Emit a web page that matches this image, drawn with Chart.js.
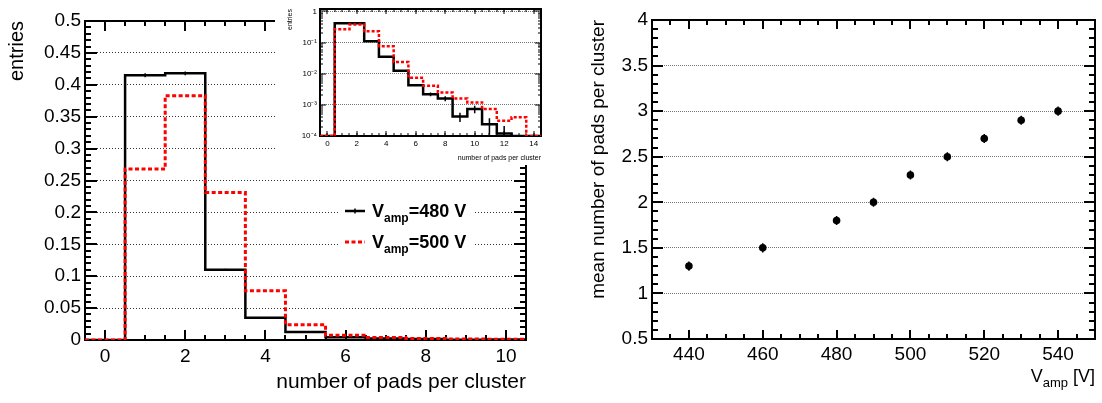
<!DOCTYPE html>
<html>
<head>
<meta charset="utf-8">
<script src="https://cdn.jsdelivr.net/npm/chart.js@4.4.1/dist/chart.umd.min.js"></script>
<style>
  html, body { margin: 0; padding: 0; background: #fff; }
  #wrap { position: relative; width: 1102px; height: 403px; overflow: hidden; }
  .box { position: absolute; }
  #inset-box { background: #fff; }
</style>
</head>
<body>
<div id="wrap">
  <div class="box" style="left:0;top:0;width:560px;height:403px"><canvas id="hist"></canvas></div>
  <div class="box" id="inset-box" style="left:275px;top:0;width:275px;height:165px"><canvas id="inset"></canvas></div>
  <div class="box" style="left:560px;top:0;width:542px;height:403px"><canvas id="mean"></canvas></div>
</div>
<script>
const FONT = '"Liberation Sans", Arial, Helvetica, sans-serif';
Chart.defaults.font.family = FONT;
Chart.defaults.color = '#000';
Chart.defaults.animation = false;

// cluster size distribution (bin centres = number of pads)
const bins = [0, 1, 2, 3, 4, 5, 6, 7, 8, 9, 10, 11, 12, 13, 14];
const entries480 = [0, 0.415, 0.418, 0.110, 0.035, 0.0125, 0.0043, 0.0022, 0.0016, 0.00042, 0.00074, 0.00024, 0.00012, 0.0001, 0.0001];
const errors480 = [0, 0.003, 0.003, 0.0015, 0.0008, 0.0005, 0.0003, 0.0003, 0.0003, 0.00014, 0.0002, 0.00013, 0.00009, 0, 0];
const entries500 = [0, 0.268, 0.383, 0.231, 0.077, 0.024, 0.0074, 0.0041, 0.0025, 0.0016, 0.0012, 0.00073, 0.00031, 0.0004, 0];
const legendVolts = ['480', '500'];

const histXTicks = [0, 2, 4, 6, 8, 10];
const histYTicks = [0, 0.05, 0.1, 0.15, 0.2, 0.25, 0.3, 0.35, 0.4, 0.45, 0.5];
const histYLabels = ['0', '0.05', '0.1', '0.15', '0.2', '0.25', '0.3', '0.35', '0.4', '0.45', '0.5'];
const insetXTicks = [0, 2, 4, 6, 8, 10, 12, 14];
const insetYTicks = [1e-4, 1e-3, 1e-2, 1e-1, 1];
const insetYLabels = ['10\u207B\u2074', '10\u207B\u00B3', '10\u207B\u00B2', '10\u207B\u00B9', '1'];

// mean cluster size vs amplification voltage
const vamp = [440, 460, 480, 490, 500, 510, 520, 530, 540];
const meanPads = [1.3, 1.5, 1.8, 2.0, 2.3, 2.5, 2.7, 2.9, 3.0];
const meanErr = [0.05, 0.05, 0.05, 0.05, 0.05, 0.05, 0.05, 0.05, 0.05];
const meanXTicks = [440, 460, 480, 500, 520, 540];
const meanYTicks = [0.5, 1, 1.5, 2, 2.5, 3, 3.5, 4];
const meanYLabels = ['0.5', '1', '1.5', '2', '2.5', '3', '3.5', '4'];

function range(a, b, step) {
  const out = [];
  for (let v = a; v <= b + 1e-9; v += step) out.push(+v.toFixed(6));
  return out;
}

function logMinors(fromExp, toExp) {
  const out = [];
  for (let e = fromExp; e < toExp; e++) for (let m = 2; m <= 9; m++) out.push(m * Math.pow(10, e));
  return out;
}

// histogram outline: one point per lower bin edge, plus the last upper edge
function histSteps(values, floor) {
  const pts = bins.map((b, i) => ({ x: b - 0.5, y: Math.max(values[i], floor) }));
  pts.push({ x: bins[bins.length - 1] + 0.5, y: Math.max(values[values.length - 1], floor) });
  return pts;
}

function drawRich(ctx, parts, x, y, align) {
  const widths = parts.map(p => {
    ctx.font = (p.bold ? 'bold ' : '') + p.size + 'px ' + FONT;
    return ctx.measureText(p.text).width;
  });
  let cx = align === 'right' ? x - widths.reduce((s, w) => s + w, 0) : x;
  ctx.textAlign = 'left';
  ctx.textBaseline = 'alphabetic';
  parts.forEach((p, i) => {
    ctx.font = (p.bold ? 'bold ' : '') + p.size + 'px ' + FONT;
    ctx.fillText(p.text, cx, y + (p.dy || 0));
    cx += widths[i];
  });
}

// ROOT-like frame with inward ticks on all four sides
function framePlugin(cfg) {
  return {
    id: 'frame',
    beforeDatasetsDraw(chart) {
      const { ctx, chartArea: a, scales } = chart;
      const xs = scales.x, ys = scales.y;
      ctx.save();
      ctx.strokeStyle = '#000';
      ctx.lineWidth = cfg.tickWidth;
      ctx.setLineDash([]);
      ctx.beginPath();
      const xt = (vals, len) => vals.forEach(v => {
        const p = Math.round(xs.getPixelForValue(v));
        if (p < a.left + 2 || p > a.right - 2) return;
        ctx.moveTo(p, a.bottom); ctx.lineTo(p, a.bottom - len);
        ctx.moveTo(p, a.top); ctx.lineTo(p, a.top + len);
      });
      const yt = (vals, len) => vals.forEach(v => {
        const p = Math.round(ys.getPixelForValue(v));
        if (p < a.top + 2 || p > a.bottom - 2) return;
        ctx.moveTo(a.left, p); ctx.lineTo(a.left + len, p);
        ctx.moveTo(a.right, p); ctx.lineTo(a.right - len, p);
      });
      xt(cfg.xMinor, cfg.xMinorLen);
      xt(cfg.xMajor, cfg.xMajorLen);
      yt(cfg.yMinor, cfg.yMinorLen);
      yt(cfg.yMajor, cfg.yMajorLen);
      ctx.stroke();
      ctx.lineWidth = cfg.frameWidth;
      ctx.strokeRect(a.left, a.top, a.width, a.height);
      ctx.restore();
    }
  };
}

function errorBarPlugin(cfg) {
  return {
    id: 'errorBars',
    afterDatasetsDraw(chart) {
      const { ctx, chartArea: a, scales } = chart;
      const xs = scales.x, ys = scales.y;
      ctx.save();
      ctx.beginPath();
      ctx.rect(a.left, a.top, a.width, a.height);
      ctx.clip();
      ctx.strokeStyle = cfg.color;
      ctx.lineWidth = cfg.width;
      ctx.setLineDash([]);
      ctx.beginPath();
      cfg.x.forEach((xv, i) => {
        const e = cfg.err[i];
        if (!e || xv < xs.min || xv > xs.max) return;
        const px = xs.getPixelForValue(xv);
        const lo = Math.max(cfg.y[i] - e, ys.min);
        ctx.moveTo(px, ys.getPixelForValue(lo));
        ctx.lineTo(px, ys.getPixelForValue(cfg.y[i] + e));
      });
      ctx.stroke();
      ctx.restore();
    }
  };
}

function legendPlugin(cfg) {
  return {
    id: 'vampLegend',
    afterDatasetsDraw(chart) {
      const ctx = chart.ctx;
      ctx.save();
      ctx.fillStyle = '#fff';
      ctx.fillRect(cfg.box[0], cfg.box[1], cfg.box[2], cfg.box[3]);
      legendVolts.forEach((volt, i) => {
        const ds = chart.data.datasets[i];
        const y = cfg.rowY[i];
        ctx.strokeStyle = ds.borderColor;
        ctx.lineWidth = ds.borderWidth;
        ctx.setLineDash(ds.borderDash || []);
        ctx.beginPath();
        ctx.moveTo(cfg.lineX[0], y);
        ctx.lineTo(cfg.lineX[1], y);
        ctx.stroke();
        ctx.setLineDash([]);
        if (i === 0) {
          const cx = (cfg.lineX[0] + cfg.lineX[1]) / 2;
          ctx.lineWidth = 1.5;
          ctx.beginPath();
          ctx.moveTo(cx, y - 2.5);
          ctx.lineTo(cx, y + 2.5);
          ctx.stroke();
        }
        ctx.fillStyle = '#000';
        drawRich(ctx, [
          { text: 'V', size: 18, bold: true },
          { text: 'amp', size: 12, bold: true, dy: 5 },
          { text: '=' + volt + ' V', size: 18, bold: true }
        ], cfg.textX, y + 6, 'left');
      });
      ctx.restore();
    }
  };
}

function vampTitlePlugin(cfg) {
  return {
    id: 'vampTitle',
    afterDraw(chart) {
      const ctx = chart.ctx;
      ctx.save();
      ctx.fillStyle = '#000';
      drawRich(ctx, [
        { text: 'V', size: 18 },
        { text: 'amp', size: 13, dy: 5 },
        { text: ' [V]', size: 18 }
      ], chart.chartArea.right, cfg.y, 'right');
      ctx.restore();
    }
  };
}

const noLegend = { legend: { display: false }, tooltip: { enabled: false } };

// main histogram
new Chart(document.getElementById('hist'), {
  type: 'line',
  data: {
    datasets: [
      { label: 'V_amp=480 V', data: histSteps(entries480, 0), borderColor: '#000', borderWidth: 2.5,
        stepped: true, pointRadius: 0, order: 2 },
      { label: 'V_amp=500 V', data: histSteps(entries500, 0), borderColor: '#ff0000', borderWidth: 3,
        borderDash: [4, 2.5], stepped: true, pointRadius: 0, order: 1 }
    ]
  },
  options: {
    responsive: true,
    maintainAspectRatio: false,
    layout: { padding: { left: 0, top: 21, right: 34, bottom: 0 } },
    plugins: noLegend,
    scales: {
      x: {
        type: 'linear', min: -0.5, max: 10.5,
        afterBuildTicks: s => { s.ticks = histXTicks.map(v => ({ value: v })); },
        afterFit: s => { s.height = 63; },
        grid: { display: false, drawTicks: false },
        border: { display: false },
        ticks: { padding: 5, font: { size: 19 }, maxRotation: 0, autoSkip: false },
        title: { display: true, text: 'number of pads per cluster', align: 'end', font: { size: 21 },
                 padding: { top: 0, bottom: 8 } }
      },
      y: {
        min: 0, max: 0.5,
        afterBuildTicks: s => { s.ticks = histYTicks.map(v => ({ value: v })); },
        afterFit: s => { s.width = 85; },
        grid: { color: '#333', lineWidth: 1, drawTicks: false },
        border: { display: false, dash: [1, 2] },
        ticks: { padding: 4, font: { size: 19 }, autoSkip: false, callback: (v, i) => histYLabels[i] },
        title: { display: true, text: 'entries', align: 'end', font: { size: 20 }, padding: { top: 5, bottom: 0 } }
      }
    }
  },
  plugins: [
    framePlugin({ frameWidth: 2, tickWidth: 2, xMajor: histXTicks, xMinor: range(-0.5, 10.5, 0.5), xMajorLen: 10, xMinorLen: 5,
                  yMajor: histYTicks, yMinor: range(0, 0.5, 0.01), yMajorLen: 12, yMinorLen: 6 }),
    errorBarPlugin({ x: bins, y: entries480, err: errors480, color: '#000', width: 1.5 }),
    legendPlugin({ box: [339, 195, 134, 63], lineX: [345, 365], rowY: [211, 242], textX: 372 })
  ]
});

// log-scale inset
new Chart(document.getElementById('inset'), {
  type: 'line',
  data: {
    datasets: [
      { data: histSteps(entries480, 1e-4), borderColor: '#000', borderWidth: 2.5, stepped: true, pointRadius: 0, order: 2 },
      { data: histSteps(entries500, 1e-4), borderColor: '#ff0000', borderWidth: 2.5, borderDash: [3, 2],
        stepped: true, pointRadius: 0, order: 1 }
    ]
  },
  options: {
    responsive: true,
    maintainAspectRatio: false,
    layout: { padding: { left: 7, top: 9, right: 9, bottom: 0 } },
    plugins: noLegend,
    scales: {
      x: {
        type: 'linear', min: -0.5, max: 14.5,
        afterBuildTicks: s => { s.ticks = insetXTicks.map(v => ({ value: v })); },
        afterFit: s => { s.height = 29; },
        grid: { display: false, drawTicks: false },
        border: { display: false },
        ticks: { padding: 3, font: { size: 8 }, maxRotation: 0, autoSkip: false },
        title: { display: true, text: 'number of pads per cluster', align: 'end', font: { size: 7 },
                 padding: { top: 0, bottom: 3 } }
      },
      y: {
        type: 'logarithmic', min: 1e-4, max: 1.2,
        afterBuildTicks: s => { s.ticks = insetYTicks.map(v => ({ value: v })); },
        afterFit: s => { s.width = 38; },
        grid: { color: '#777', lineWidth: 1, drawTicks: false },
        border: { display: false, dash: [1, 1] },
        ticks: { padding: 3, font: { size: 8 }, autoSkip: false, callback: (v, i) => insetYLabels[i] },
        title: { display: true, text: 'entries', align: 'end', font: { size: 7 }, padding: { top: 4, bottom: 0 } }
      }
    }
  },
  plugins: [
    framePlugin({ frameWidth: 2, tickWidth: 1, xMajor: insetXTicks, xMinor: range(-0.5, 14.5, 0.5), xMajorLen: 5, xMinorLen: 3,
                  yMajor: insetYTicks, yMinor: logMinors(-4, 0), yMajorLen: 6, yMinorLen: 3 }),
    errorBarPlugin({ x: bins, y: entries480, err: errors480, color: '#000', width: 1.5 })
  ]
});

// mean number of pads vs V_amp
new Chart(document.getElementById('mean'), {
  type: 'scatter',
  data: {
    datasets: [{
      data: vamp.map((v, i) => ({ x: v, y: meanPads[i] })),
      pointRadius: 3.8, pointBackgroundColor: '#000', pointBorderWidth: 0, showLine: false
    }]
  },
  options: {
    responsive: true,
    maintainAspectRatio: false,
    layout: { padding: { left: 24, top: 20, right: 7, bottom: 0 } },
    plugins: noLegend,
    scales: {
      x: {
        type: 'linear', min: 430, max: 550,
        afterBuildTicks: s => { s.ticks = meanXTicks.map(v => ({ value: v })); },
        afterFit: s => { s.height = 64; },
        grid: { display: false, drawTicks: false },
        border: { display: false },
        ticks: { padding: 4, font: { size: 19 }, maxRotation: 0, autoSkip: false }
      },
      y: {
        min: 0.5, max: 4,
        afterBuildTicks: s => { s.ticks = meanYTicks.map(v => ({ value: v })); },
        afterFit: s => { s.width = 68; },
        grid: { color: '#777', lineWidth: 1, drawTicks: false },
        border: { display: false, dash: [1, 1] },
        ticks: { padding: 4, font: { size: 19 }, autoSkip: false, callback: (v, i) => meanYLabels[i] },
        title: { display: true, text: 'mean number of pads per cluster', align: 'end', font: { size: 19 },
                 padding: { top: 3, bottom: 0 } }
      }
    }
  },
  plugins: [
    framePlugin({ frameWidth: 2, tickWidth: 2, xMajor: meanXTicks, xMinor: range(430, 550, 5), xMajorLen: 9, xMinorLen: 5,
                  yMajor: meanYTicks, yMinor: range(0.5, 4, 0.1), yMajorLen: 11, yMinorLen: 6 }),
    errorBarPlugin({ x: vamp, y: meanPads, err: meanErr, color: '#000', width: 1.5 }),
    vampTitlePlugin({ y: 382 })
  ]
});
</script>
</body>
</html>
